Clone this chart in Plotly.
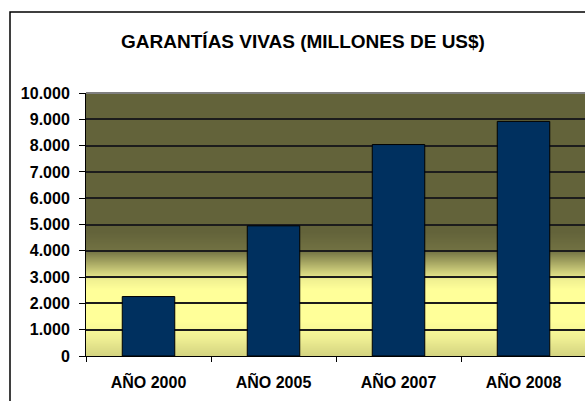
import base64
import struct
import zlib

import plotly.graph_objects as go

# ---- data -------------------------------------------------------------
categories = ["AÑO 2000", "AÑO 2005", "AÑO 2007", "AÑO 2008"]
garantias = [2260, 4950, 8040, 8920]  # millones de US$
y_ticks = list(range(0, 10001, 1000))

# ---- style -------------------------------------------------------------
W, H = 585, 401
M_L, M_R, M_T, M_B = 86, 0, 93, 45
CAT_PX = 125  # horizontal pixels per category
FONT = "Liberation Sans, Arial, sans-serif"
BAR_COLOR = "#00305F"
GRID_COLOR = "#1c1c1c"
Y_MAX = 10000

# vertical background gradient stops (axis value, rgb)
grad_stops = [
    (0, (212, 212, 128)),
    (700, (240, 240, 148)),
    (1300, (255, 255, 153)),
    (2500, (255, 255, 153)),
    (2900, (240, 240, 145)),
    (3500, (172, 172, 102)),
    (4000, (114, 114, 67)),
    (4700, (99, 99, 58)),
    (10000, (99, 99, 58)),
]


def grad_rgb(v):
    for (v0, c0), (v1, c1) in zip(grad_stops, grad_stops[1:]):
        if v0 <= v <= v1:
            t = (v - v0) / (v1 - v0)
            return [round(a + (b - a) * t) for a, b in zip(c0, c1)]
    return list(grad_stops[-1][1])


def gradient_png(rows):
    """One-pixel-wide PNG, top row = Y_MAX, bottom row = 0."""
    raw = b""
    for r in range(rows):
        v = Y_MAX * (1 - (r + 0.5) / rows)
        raw += b"\x00" + bytes(grad_rgb(v))

    def chunk(tag, data):
        c = tag + data
        return struct.pack(">I", len(data)) + c + struct.pack(">I", zlib.crc32(c) & 0xFFFFFFFF)

    png = b"\x89PNG\r\n\x1a\n"
    png += chunk(b"IHDR", struct.pack(">IIBBBBB", 1, rows, 8, 2, 0, 0, 0))
    png += chunk(b"IDAT", zlib.compress(raw, 9))
    png += chunk(b"IEND", b"")
    return "data:image/png;base64," + base64.b64encode(png).decode()


plot_w = W - M_L - M_R
plot_h = H - M_T - M_B
x_range = [-0.5, -0.5 + plot_w / CAT_PX]


def px_x(px):
    return (px - M_L) / plot_w


def px_y(py):
    return (H - M_B - py) / plot_h


shapes = [
    # grey frame line along the top of the plot area
    dict(type="line", xref="paper", yref="paper", x0=0, x1=1, y0=1, y1=1,
         line=dict(color="#7f7f7f", width=2), layer="above"),
    # outer chart frame (left and top edges visible)
    dict(type="rect", xref="paper", yref="paper",
         x0=px_x(10), x1=px_x(W + 20), y0=px_y(H + 20), y1=px_y(12),
         line=dict(color="black", width=1.5), fillcolor="rgba(0,0,0,0)",
         layer="above"),
]

fig = go.Figure(
    go.Bar(
        x=categories,
        y=garantias,
        marker=dict(color=BAR_COLOR, line=dict(color="black", width=1)),
        width=0.42,
    )
)

fig.update_layout(
    width=W,
    height=H,
    autosize=False,
    margin=dict(l=M_L, r=M_R, t=M_T, b=M_B, pad=0),
    paper_bgcolor="white",
    plot_bgcolor="rgba(0,0,0,0)",
    separators=",.",
    showlegend=False,
    shapes=shapes,
    images=[dict(
        source=gradient_png(plot_h),
        xref="paper", yref="paper", x=0, y=1, sizex=1, sizey=1,
        xanchor="left", yanchor="top", sizing="stretch", layer="below",
    )],
    title=dict(
        text="GARANTÍAS VIVAS (MILLONES DE US$)",
        font=dict(family=FONT, size=19, color="black", weight="bold"),
        xref="container", yref="container",
        x=303 / W, y=1 - 41 / H, xanchor="center", yanchor="middle",
    ),
    font=dict(family=FONT, color="black"),
)

fig.update_xaxes(
    type="category",
    range=x_range,
    showgrid=False,
    showline=True, linecolor="black", linewidth=1,
    ticks="outside", tickson="boundaries", ticklen=5, tickcolor="black",
    tickfont=dict(family=FONT, size=16, color="black", weight="bold"),
    ticklabelstandoff=12,
    fixedrange=True,
)

fig.update_yaxes(
    range=[0, Y_MAX],
    tickvals=y_ticks,
    tickformat=",d",
    showgrid=True, gridcolor=GRID_COLOR, gridwidth=1.5,
    zeroline=False,
    showline=True, linecolor="black", linewidth=1,
    ticks="outside", ticklen=6, tickcolor="black",
    tickfont=dict(family=FONT, size=16, color="black", weight="bold"),
    ticklabelstandoff=6,
    fixedrange=True,
)

fig.write_html("out.html", config={"displayModeBar": False})
